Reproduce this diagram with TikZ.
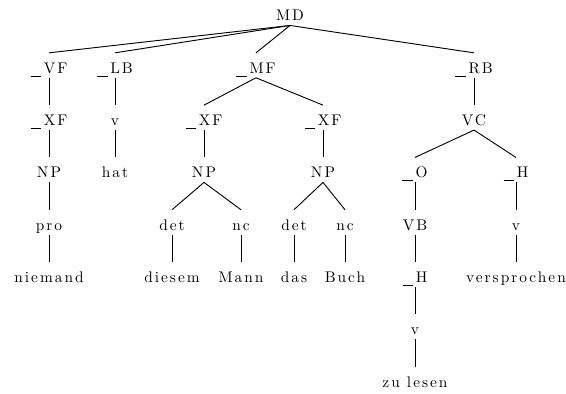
\documentclass[tikz,border=0pt]{standalone}
\usepackage{fontspec}
\newfontfamily\treefont{Latin Modern Roman}[LetterSpace=13]
\newcommand\ubar{\rule[-2.3pt]{6.8pt}{0.65pt}\hspace{1.8pt}}
\usetikzlibrary{positioning}

\begin{document}
\begin{tikzpicture}[
  font=\treefont,
  every node/.style={inner sep=0pt, text height=13pt, text depth=2.6pt},
  on grid, node distance=34pt, line width=0.6pt]
\useasboundingbox (0,0) rectangle (367.9pt,-256.1pt);
\node(md)[anchor=base] at (188.5pt,-13.65pt){MD};
% left part
\node(vf)[below left = 34pt and 156.65pt of md]{\ubar VF};
\node(xfvf)[below = of vf]{\ubar XF};
\node(npvf)[below = of xfvf]{NP};
\node(pro)[below = of npvf]{pro};
\node(niemand)[below = of pro]{niemand};
\node(lb)[below left = 34pt and 113.75pt of md]{\ubar LB};
\node(vlb)[below = of lb]{v};
\node(hat)[below = of vlb]{hat};
% middle field
\node(mf)[below left = 34pt and 22.1pt of md]{\ubar MF};
\node(xfl)[below left = 34pt and 33.8pt of mf]{\ubar XF};
\node(npl)[below = of xfl]{NP};
\node(detl)[below left = 34pt and 20.8pt of npl]{det};
\node(ncl)[below right = 34pt and 24.05pt of npl]{nc};
\node(diesem)[below = of detl]{diesem};
\node(mann)[below = of ncl]{Mann};
\node(xfr)[below right = 34pt and 43.55pt of mf]{\ubar XF};
\node(npr)[below = of xfr]{NP};
\node(detr)[below left = 34pt and 18.85pt of npr]{det};
\node(ncr)[below right = 34pt and 14.3pt of npr]{nc};
\node(das)[below = of detr]{das};
\node(buch)[below = of ncr]{Buch};
% right bracket
\node(rb)[below right = 34pt and 119.6pt of md]{\ubar RB};
\node(vc)[below = of rb]{VC};
\node(o)[below left = 34pt and 38.35pt of vc]{\ubar O};
\node(vb)[below = of o]{VB};
\node(hvb)[below = of vb]{\ubar H};
\node(vvb)[below = of hvb]{v};
\node(zulesen)[below = of vvb]{zu lesen};
\node(hvc)[below right = 34pt and 27.3pt of vc]{\ubar H};
\node(vvc)[below = of hvc]{v};
\node(versprochen)[below = of vvc]{versprochen};
% edges
\draw (md.south) -- (vf.north);
\draw (md.south) -- (lb.north);
\draw (md.south) -- (mf.north);
\draw (md.south) -- (rb.north);
\draw (vf) -- (xfvf) -- (npvf) -- (pro) -- (niemand);
\draw (lb) -- (vlb) -- (hat);
\draw (mf.south) -- (xfl.north);
\draw (mf.south) -- (xfr.north);
\draw (xfl) -- (npl);
\draw (npl.south) -- (detl.north);
\draw (npl.south) -- (ncl.north);
\draw (detl) -- (diesem);
\draw (ncl) -- (mann);
\draw (xfr) -- (npr);
\draw (npr.south) -- (detr.north);
\draw (npr.south) -- (ncr.north);
\draw (detr) -- (das);
\draw (ncr) -- (buch);
\draw (rb) -- (vc);
\draw (vc.south) -- (o.north);
\draw (vc.south) -- (hvc.north);
\draw (o) -- (vb) -- (hvb) -- (vvb) -- (zulesen);
\draw (hvc) -- (vvc) -- (versprochen);
\end{tikzpicture}
\end{document}
